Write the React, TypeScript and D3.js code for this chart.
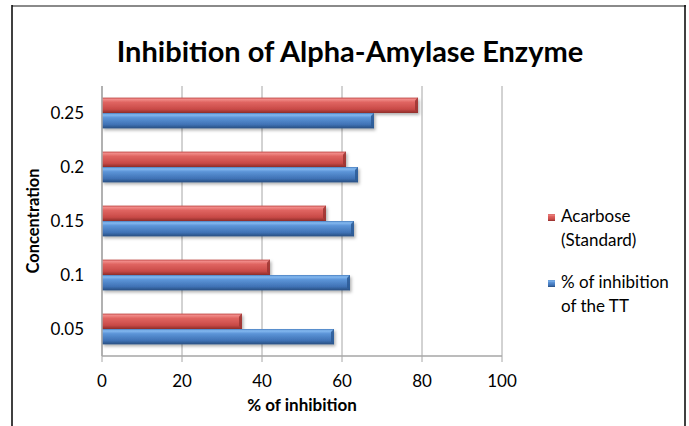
import React from "react";
import * as d3 from "d3";

const categories = ["0.25", "0.2", "0.15", "0.1", "0.05"];
const seriesNames = ["Acarbose (Standard)", "% of inhibition of the TT"];
const acarbose = [79, 61, 56, 42, 35];
const extractTT = [68, 64, 63, 62, 58];
const xTicks = [0, 20, 40, 60, 80, 100];

const W = 689;
const H = 426;
const FONT = "Lato, 'Open Sans', sans-serif";

export default function App() {
  const plot = { left: 102, right: 502, top: 86, bottom: 356 };
  const x = d3.scaleLinear().domain([0, 100]).range([plot.left, plot.right]);
  const y = d3.scaleBand<string>().domain(categories).range([plot.top, plot.bottom]).paddingInner(0.43).paddingOuter(0.215);
  const sub = d3.scaleBand<number>().domain([0, 1]).range([0, y.bandwidth()]);
  const series = [acarbose, extractTT];
  const grads = ["gRed", "gBlue"];

  return (
    <svg width={W} height={H} style={{ position: "absolute", left: 0, top: 0, background: "#fff" }} fontFamily={FONT}>
      <defs>
        <linearGradient id="gRed" x1="0" y1="0" x2="0" y2="1">
          <stop offset="0" stopColor="#c4504d" />
          <stop offset="0.12" stopColor="#f08886" />
          <stop offset="0.3" stopColor="#e06562" />
          <stop offset="0.75" stopColor="#c94a47" />
          <stop offset="1" stopColor="#8e2d2b" />
        </linearGradient>
        <linearGradient id="gBlue" x1="0" y1="0" x2="0" y2="1">
          <stop offset="0" stopColor="#4a7fc0" />
          <stop offset="0.12" stopColor="#84b9f0" />
          <stop offset="0.3" stopColor="#5d95d8" />
          <stop offset="0.75" stopColor="#3f72b5" />
          <stop offset="1" stopColor="#284e80" />
        </linearGradient>
        <filter id="shadow" x="-5%" y="-30%" width="115%" height="180%">
          <feDropShadow dx="1.5" dy="2" stdDeviation="1.5" floodColor="#000" floodOpacity="0.3" />
        </filter>
      </defs>

      {/* chart frame */}
      <line x1={12} y1={6} x2={686} y2={6} stroke="#8a8a8a" strokeWidth={2} />
      <line x1={12} y1={5} x2={12} y2={H} stroke="#000" strokeWidth={1.5} />
      <line x1={685} y1={5} x2={685} y2={H} stroke="#000" strokeWidth={1.5} />

      {/* title */}
      <text x={350} y={62} textAnchor="middle" fontSize={29} fontWeight="bold" fill="#000">
        Inhibition of Alpha-Amylase Enzyme
      </text>

      {/* gridlines */}
      {xTicks.map((t) => (
        <line key={"g" + t} x1={x(t)} x2={x(t)} y1={plot.top} y2={plot.bottom} stroke="#a6a6a6" strokeWidth={1} />
      ))}

      {/* bars */}
      {categories.map((c, i) => (
        <g key={c}>
          {series.map((s, k) => {
            const y0 = (y(c) as number) + (sub(k) as number);
            const h = sub.bandwidth();
            const x0 = x(0);
            const x1 = x(s[i]);
            const b = 3;
            return (
              <g key={k} filter="url(#shadow)">
                <rect x={x0} y={y0} width={x1 - x0} height={h} fill={`url(#${grads[k]})`} />
                <path
                  d={`M${x1 - b},${y0 + b} L${x1},${y0} L${x1},${y0 + h} L${x1 - b},${y0 + h - b} Z`}
                  fill={k === 0 ? "#9c3532" : "#2c5a95"}
                  opacity={0.85}
                />
              </g>
            );
          })}
        </g>
      ))}

      {/* axes */}
      <line x1={plot.left} x2={plot.right} y1={plot.bottom} y2={plot.bottom} stroke="#a6a6a6" strokeWidth={1.5} />
      <line x1={plot.left} x2={plot.left} y1={plot.top} y2={plot.bottom} stroke="#a6a6a6" strokeWidth={1.5} />
      {xTicks.map((t) => (
        <g key={"t" + t}>
          <line x1={x(t)} x2={x(t)} y1={plot.bottom} y2={plot.bottom + 6} stroke="#a6a6a6" />
          <text x={x(t)} y={387} textAnchor="middle" fontSize={17} fill="#000">
            {t}
          </text>
        </g>
      ))}
      {categories.map((c) => (
        <text key={"l" + c} x={84} y={(y(c) as number) + y.bandwidth() / 2 + 6} textAnchor="end" fontSize={17} fill="#000">
          {c}
        </text>
      ))}

      {/* axis titles */}
      <text x={302} y={411} textAnchor="middle" fontSize={17} fontWeight="bold" fill="#000">
        % of inhibition
      </text>
      <text transform={`translate(39,${(plot.top + plot.bottom) / 2}) rotate(-90)`} textAnchor="middle" fontSize={16.5} fontWeight="bold" fill="#000">
        Concentration
      </text>

      {/* legend */}
      <g>
        <rect x={548} y={214} width={7} height={7} fill="url(#gRed)" />
        <text x={561} y={222} fontSize={17} fill="#000">Acarbose</text>
        <text x={561} y={246} fontSize={17} fill="#000">(Standard)</text>
        <rect x={548} y={280} width={7} height={7} fill="url(#gBlue)" />
        <text x={561} y={288} fontSize={17} fill="#000">% of inhibition</text>
        <text x={561} y={312} fontSize={17} fill="#000">of the TT</text>
      </g>
    </svg>
  );
}
